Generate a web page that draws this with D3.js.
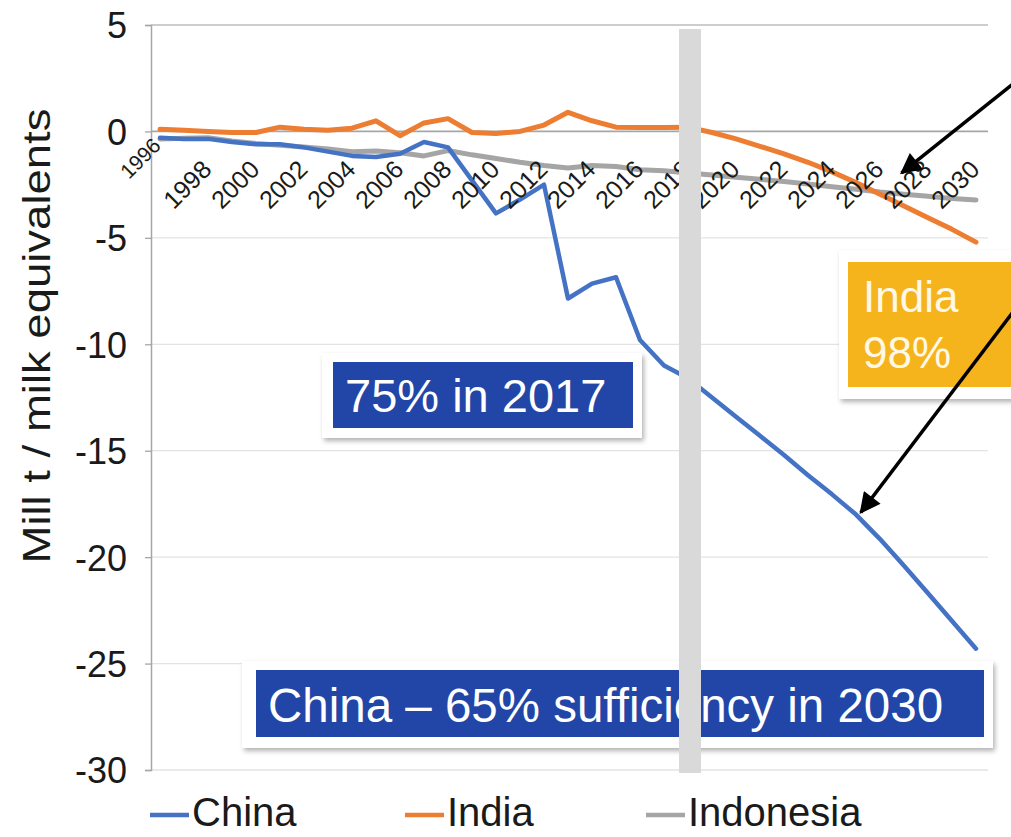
<!DOCTYPE html>
<html>
<head>
<meta charset="utf-8">
<script src="https://cdn.jsdelivr.net/npm/d3@7"></script>
<style>
  body { margin: 0; background: #fff; }
  svg { display: block; }
  text { font-family: "Liberation Sans", Arial, Helvetica, sans-serif; }
</style>
</head>
<body>
<svg id="chart" width="1011" height="837"></svg>
<script>
// Net dairy trade balance, million tonnes milk equivalents (negative = net import)
const years = [1996, 1997, 1998, 1999, 2000, 2001, 2002, 2003, 2004, 2005,
               2006, 2007, 2008, 2009, 2010, 2011, 2012, 2013, 2014, 2015,
               2016, 2017, 2018, 2019, 2020, 2021, 2022, 2023, 2024, 2025,
               2026, 2027, 2028, 2029, 2030];

const china = [-0.3, -0.35, -0.35, -0.5, -0.6, -0.6, -0.75, -0.95, -1.15, -1.2,
               -1.05, -0.5, -0.75, -2.3, -3.85, -3.2, -2.5, -7.85, -7.15, -6.85,
               -9.8, -11.0, -11.6, -12.5, -13.4, -14.3, -15.2, -16.15, -17.05, -18.0,
               -19.15, -20.4, -21.7, -23.0, -24.3];

const india = [0.1, 0.05, 0.0, -0.05, -0.05, 0.2, 0.1, 0.05, 0.15, 0.5,
               -0.2, 0.4, 0.6, -0.05, -0.1, 0.0, 0.3, 0.9, 0.5, 0.2,
               0.18, 0.18, 0.2, -0.05, -0.35, -0.7, -1.05, -1.45, -1.9, -2.4,
               -2.95, -3.5, -4.05, -4.6, -5.2];

const indonesia = [-0.35, -0.32, -0.3, -0.45, -0.57, -0.65, -0.73, -0.82, -0.95, -0.92,
                   -1.0, -1.15, -0.9, -1.1, -1.27, -1.45, -1.6, -1.72, -1.6, -1.65,
                   -1.8, -1.85, -1.95, -2.05, -2.15, -2.25, -2.35, -2.47, -2.6, -2.72,
                   -2.85, -2.95, -3.05, -3.15, -3.22];

const seriesNames = ["China", "India", "Indonesia"];
const seriesColors = ["#4472c4", "#ed7d31", "#a5a5a5"];

const yTickValues = [5, 0, -5, -10, -15, -20, -25, -30];
const xTickYears = [1996, 1998, 2000, 2002, 2004, 2006, 2008, 2010, 2012, 2014,
                    2016, 2018, 2020, 2022, 2024, 2026, 2028, 2030];

const baseYear = 2018;            // last actual year, projections after
const yAxisTitle = "Mill t / milk equivalents";
const chinaNote2017 = "75% in 2017";
const chinaNote2030 = "China \u2013 65% sufficiency in 2030";
const indiaNote = ["India", "98%"];

const svg = d3.select("#chart");

const x = d3.scaleLinear().domain([1996, 2030]).range([160, 976]);
const y = d3.scaleLinear().domain([-30, 5]).range([770, 25]);

// ---- defs: card shadow + arrow head
const defs = svg.append("defs");
const shadow = defs.append("filter").attr("id", "cardShadow")
  .attr("x", "-10%").attr("y", "-20%").attr("width", "130%").attr("height", "150%");
shadow.append("feDropShadow")
  .attr("dx", 2).attr("dy", 3).attr("stdDeviation", 2.5)
  .attr("flood-color", "#000").attr("flood-opacity", 0.3);

defs.append("marker").attr("id", "arrowHead")
  .attr("viewBox", "0 0 10 10").attr("refX", 9).attr("refY", 5)
  .attr("markerWidth", 7).attr("markerHeight", 6)
  .attr("markerUnits", "strokeWidth").attr("orient", "auto")
  .append("path").attr("d", "M0,0 L10,5 L0,10 z").attr("fill", "#000");

// ---- gridlines
const xLeft = 151, xRight = 988;
svg.append("g").selectAll("line")
  .data(yTickValues)
  .join("line")
  .attr("x1", xLeft).attr("x2", xRight)
  .attr("y1", d => y(d)).attr("y2", d => y(d))
  .attr("stroke", d => d === 0 ? "#a6a6a6" : (d === 5 ? "#bdbdbd" : "#e3e3e3"))
  .attr("stroke-width", d => d === 0 ? 1.8 : 1.3);

// ---- y axis
const yAxis = d3.axisLeft(y)
  .tickValues(yTickValues)
  .tickFormat(d => String(d))
  .tickSize(6)
  .tickPadding(18);
const yAxisG = svg.append("g").attr("transform", `translate(${xLeft},0)`).call(yAxis);
yAxisG.select(".domain").attr("stroke", "#a6a6a6").attr("stroke-width", 1.5);
yAxisG.selectAll(".tick line").attr("stroke", "#a6a6a6").attr("stroke-width", 1.3);
yAxisG.selectAll(".tick text")
  .attr("font-size", 36)
  .attr("fill", "#1a1a1a")
  .attr("dy", "0.36em")
  .style("font-family", "'Liberation Sans', Arial, sans-serif");

// y axis title
svg.append("text")
  .attr("transform", `translate(50,${336}) rotate(-90)`)
  .attr("text-anchor", "middle")
  .attr("font-size", 39)
  .attr("textLength", 455)
  .attr("lengthAdjust", "spacingAndGlyphs")
  .attr("fill", "#1a1a1a")
  .text(yAxisTitle);

// ---- series lines
const lineGen = d3.line()
  .x((d, i) => x(years[i]))
  .y(d => y(d));

const seriesData = [china, india, indonesia];
const drawOrder = [2, 1, 0];
drawOrder.forEach(k => {
  svg.append("path")
    .datum(seriesData[k])
    .attr("d", lineGen)
    .attr("fill", "none")
    .attr("stroke", seriesColors[k])
    .attr("stroke-width", k === 0 ? 4.5 : 5)
    .attr("stroke-linejoin", "round")
    .attr("stroke-linecap", "round");
});

// ---- rotated year labels
svg.append("g").selectAll("text")
  .data(xTickYears)
  .join("text")
  .attr("transform", d => d === 1996
      ? `translate(${x(d) + 2},${147}) rotate(-45)`
      : `translate(${x(d) + 5},${171}) rotate(-45)`)
  .attr("text-anchor", "end")
  .attr("font-size", d => d === 1996 ? 21 : 25)
  .attr("fill", "#1a1a1a")
  .text(d => d);

// ---- annotation cards
function card(gx, gy, gw, gh, bx, by, bw, bh, fill) {
  const g = svg.append("g");
  g.append("rect").attr("x", gx).attr("y", gy).attr("width", gw).attr("height", gh)
    .attr("fill", "#fff").attr("filter", "url(#cardShadow)");
  g.append("rect").attr("x", bx).attr("y", by).attr("width", bw).attr("height", bh)
    .attr("fill", fill);
  return g;
}

const c1 = card(322, 353, 320, 85, 333, 362, 300, 66, "#2146a7");
c1.append("text").attr("x", 345).attr("y", 412)
  .attr("font-size", 47).attr("fill", "#fff").text(chinaNote2017);

const c2 = card(242, 661, 751, 87, 256, 670, 728, 67, "#2146a7");
c2.append("text").attr("x", 268).attr("y", 722)
  .attr("font-size", 47.5).attr("fill", "#fff").text(chinaNote2030);

const c3 = card(839, 250, 190, 149, 848, 262, 170, 125, "#f5b41c");
c3.append("text").attr("x", 863).attr("y", 312)
  .attr("font-size", 44).attr("fill", "#fff8e6").text(indiaNote[0]);
c3.append("text").attr("x", 863).attr("y", 368)
  .attr("font-size", 44).attr("fill", "#fff8e6").text(indiaNote[1]);

// ---- base-year divider band
svg.append("rect")
  .attr("x", x(baseYear) - 9).attr("width", 22)
  .attr("y", 29).attr("height", 744)
  .attr("fill", "#d9d9d9");

// ---- pointer arrows
svg.append("line")
  .attr("x1", 1013).attr("y1", 84).attr("x2", x(2026.9)).attr("y2", y(-1.95))
  .attr("stroke", "#000").attr("stroke-width", 3.5)
  .attr("marker-end", "url(#arrowHead)");
svg.append("line")
  .attr("x1", 1016).attr("y1", 308).attr("x2", x(2025.2)).attr("y2", y(-17.9))
  .attr("stroke", "#000").attr("stroke-width", 3.5)
  .attr("marker-end", "url(#arrowHead)");

// ---- legend
const legendItems = [
  { name: seriesNames[0], color: seriesColors[0], x0: 150 },
  { name: seriesNames[1], color: seriesColors[1], x0: 405 },
  { name: seriesNames[2], color: seriesColors[2], x0: 646 }
];
const lg = svg.append("g");
legendItems.forEach(it => {
  lg.append("line").attr("x1", it.x0).attr("x2", it.x0 + 39)
    .attr("y1", 815).attr("y2", 815)
    .attr("stroke", it.color).attr("stroke-width", 4.5);
  lg.append("text").attr("x", it.x0 + 42).attr("y", 826)
    .attr("font-size", 40).attr("fill", "#1a1a1a").text(it.name);
});
</script>
</body>
</html>
